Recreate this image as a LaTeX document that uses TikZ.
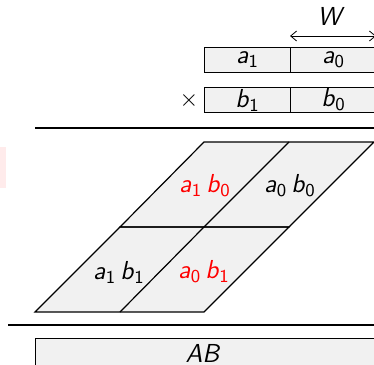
\documentclass[tikz,border=0pt]{standalone}
\usepackage{amsmath}
\usetikzlibrary{arrows.meta}
\definecolor{cellgray}{gray}{0.945}
\newcommand{\sv}[1]{\textsf{\textit{#1}}}
\newcommand{\svs}[2]{\sv{#1}$_{\textsf{#2}}$}
\tikzset{
  wordbox/.style={draw=black, line width=0.5pt, fill=cellgray, minimum width=43pt, minimum height=12.5pt, inner sep=0pt, anchor=north west},
  rulebar/.style={line width=1pt},
  cellline/.style={line width=0.6pt},
  lbl/.style={inner sep=0pt, font=\fontsize{13}{15}\selectfont},
  hl/.style={lbl, text=red}
}
\begin{document}
\begin{tikzpicture}[x=0.5pt,y=-0.5pt]
\useasboundingbox (0,0) rectangle (374,364);
\clip (0,0) rectangle (374,364);
% faint mark at left
\fill[red!8] (0,147) rectangle (6,188);
% operand a
\node[wordbox] (a1) at (204,47) {};
\node[wordbox] (a0) at (290,47) {};
\node[lbl] at (a1.center) {\svs{a}{1}};
\node[lbl] at (a0.center) {\svs{a}{0}};
% width marker
\coordinate (wl) at (290,36);
\coordinate (wr) at (376,36);
\draw[line width=0.4pt, {Straight Barb[length=3pt,width=5pt]}-{Straight Barb[length=3pt,width=5pt]}] (wl) -- (wr);
\node[lbl] (W) at (331,16) {\sv{W}};
% operand b
\node[wordbox] (b1) at (204,87) {};
\node[wordbox] (b0) at (290,87) {};
\node[lbl] at (b1.center) {\svs{b}{1}};
\node[lbl] at (b0.center) {\svs{b}{0}};
\node[lbl] (times) at (189,100) {$\times$};
% first rule
\coordinate (r1l) at (35,128);
\coordinate (r1r) at (380,128);
\draw[rulebar] (r1l) -- (r1r);
% partial products parallelogram
\coordinate (t0) at (204,142);
\coordinate (t1) at (289,142);
\coordinate (t2) at (374,142);
\coordinate (m0) at (120,227);
\coordinate (m1) at (204,227);
\coordinate (m2) at (289,227);
\coordinate (b0p) at (35,312);
\coordinate (b1p) at (120,312);
\coordinate (b2p) at (204,312);
\fill[cellgray] (t0) -- (t2) -- (m2) -- (b2p) -- (b0p) -- (m0) -- cycle;
\draw[cellline] (t0) -- (t2) -- (m2) -- (m0) -- cycle;
\draw[cellline] (m0) -- (m2) -- (b2p) -- (b0p) -- cycle;
\draw[cellline] (t1) -- (m1) -- (b1p);
\node[hl]  (p10) at (205,186) {\svs{a}{1}\,\svs{b}{0}};
\node[lbl] (p00) at (290,186) {\svs{a}{0}\,\svs{b}{0}};
\node[lbl] (p11) at (119,272) {\svs{a}{1}\,\svs{b}{1}};
\node[hl]  (p01) at (204,272) {\svs{a}{0}\,\svs{b}{1}};
% second rule
\coordinate (r2l) at (8,325);
\coordinate (r2r) at (380,325);
\draw[rulebar] (r2l) -- (r2r);
% result
\node[draw=black, line width=0.5pt, fill=cellgray, minimum width=172pt, minimum height=20pt, inner sep=0pt, anchor=north west] (AB) at (35,338) {};
\node[lbl] at (203,353) {\sv{AB}};
\end{tikzpicture}
\end{document}
